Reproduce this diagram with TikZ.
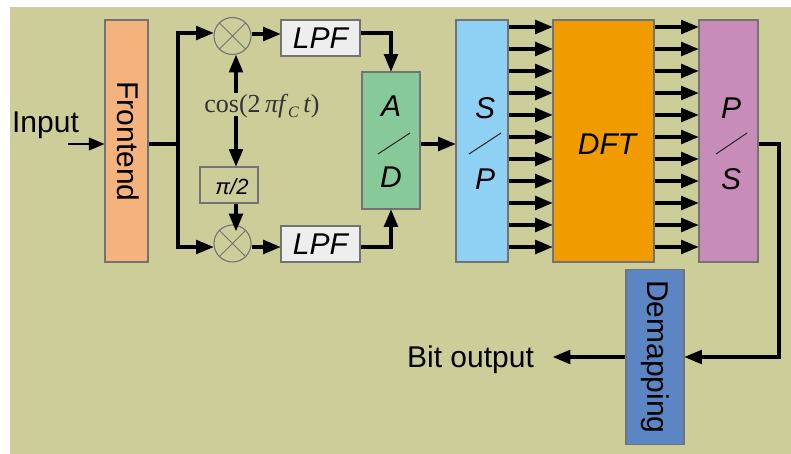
\documentclass[tikz,border=0pt]{standalone}
\usepackage{fontspec}
\setmainfont{Liberation Sans}
\newfontfamily\timesfont{Liberation Serif}
\usetikzlibrary{arrows}
\definecolor{bgcol}{HTML}{CDCD9A}
\definecolor{frontcol}{HTML}{F4B27C}
\definecolor{adcol}{HTML}{88C99A}
\definecolor{spcol}{HTML}{8FD0F5}
\definecolor{dftcol}{HTML}{F09C00}
\definecolor{pscol}{HTML}{C78CB8}
\definecolor{demapcol}{HTML}{5C85C4}
\definecolor{lpfcol}{HTML}{EEEEEE}

\begin{document}
\begin{tikzpicture}[x=1pt,y=-1pt,
    box/.style={draw=black!55,line width=1.1pt,inner sep=0pt},
    big/.style={font=\fontsize{30}{32}\selectfont},
    emph/.style={font=\fontsize{30}{32}\selectfont\itshape},
    mixer/.style={box,circle,minimum size=37pt,path picture={
        \draw[black!55,line width=1pt] (path picture bounding box.north west) -- (path picture bounding box.south east)
          (path picture bounding box.north east) -- (path picture bounding box.south west);}},
    sig/.style={line width=3.1pt,-{triangle 45}},
    wire/.style={line width=3.1pt},
    slash/.style={line width=1pt,black!85}]
  \useasboundingbox (0,0) rectangle (791,454);
  \fill[bgcol] (10,7) rectangle (791,454);

  \node[box,fill=frontcol,minimum width=43pt,minimum height=242pt] (frontend) at (126.5,141) {};
  \node[big,rotate=-90] (frontlabel) at (128.5,141.5) {Frontend};
  \node[mixer] (mixtop) at (232.5,36) {};
  \node[mixer] (mixbot) at (232.5,243.5) {};
  \node[box,emph,fill=lpfcol,minimum width=79pt,minimum height=36pt] (lpftop) at (320.5,38) {LPF};
  \node[box,emph,fill=lpfcol,minimum width=79pt,minimum height=36pt] (lpfbot) at (320.5,244) {LPF};
  \node[box,minimum width=58pt,minimum height=36pt] (shift) at (229,185) {};
  \node[font=\fontsize{22}{24}\selectfont\itshape] (shiftlabel) at (232,187) {π/2};
  \node[font=\fontsize{26}{28}\timesfont\selectfont,text=black!80] (carrier) at (262,106) {cos(2\,\textit{πf}\raisebox{-.2em}{\fontsize{16}{16}\selectfont\itshape C}\,\textit{t})};
  \node[box,fill=adcol,minimum width=58pt,minimum height=137pt] (adc) at (391,140.5) {};
  \node[box,fill=spcol,minimum width=52pt,minimum height=242pt] (sp) at (482,141) {};
  \node[box,fill=dftcol,minimum width=101pt,minimum height=242pt] (dft) at (603.5,141) {};
  \node[emph] (dftlabel) at (607,144) {DFT};
  \node[box,fill=pscol,minimum width=59pt,minimum height=242pt] (ps) at (728.5,141) {};
  \node[box,big,fill=demapcol,rotate=-90,minimum width=175pt,minimum height=58pt] (demap) at (655,357) {Demapping};

  \node[emph] (adA) at (391,106) {A};
  \node[emph] (adD) at (391,177) {D};
  \node[emph] (spS) at (485,108) {S};
  \node[emph] (spP) at (485,179) {P};
  \node[emph] (psP) at (731,108) {P};
  \node[emph] (psS) at (731,179) {S};
  \draw[slash] (378,154) -- (410,133);
  \draw[slash] (469,154) -- (501,133);
  \draw[slash] (716,154) -- (747,133);

  \node[big] (input) at (45.5,125) {Input};
  \node[big] (bits) at (470.5,360) {Bit output};
  \coordinate (instart) at (68,144);
  \coordinate (junc) at (178,144);
  \coordinate (upperin) at (236,93);
  \coordinate (lowerin) at (236,116);
  \coordinate (bitsend) at (553,357);

  \draw[line width=2.7pt,-{triangle 45}] (instart) -- (frontend.west |- instart);
  \draw[wire] (frontend.east |- junc) -- (junc);
  \fill (junc) circle (2.2pt);
  \draw[sig] (junc) |- (mixtop.west |- 0,33);
  \draw[sig] (junc) |- (mixbot.west |- 0,247);
  \draw[sig] (mixtop.east |- 0,34) -- (lpftop.west |- 0,34);
  \draw[sig] (mixbot.east |- 0,247) -- (lpfbot.west |- 0,247);
  \draw[sig] (lpftop.east |- 0,33) -| (adc.north);
  \draw[sig] (lpfbot.east |- 0,247) -| (adc.south);

  \draw[sig] (upperin) -- (upperin |- mixtop.south);
  \draw[sig] (lowerin) -- (lowerin |- shift.north);
  \draw[sig] (lowerin |- shift.south) -- (lowerin |- 0,231);

  \draw[sig] (adc.east |- 0,144) -- (sp.west |- 0,144);
  \foreach \y in {27,49,71,93,115,137,159,181,203,225,247} {
    \draw[sig] (sp.east |- 0,\y) -- (dft.west |- 0,\y);
    \draw[sig] (dft.east |- 0,\y) -- (ps.west |- 0,\y);
  }
  \draw[sig] (ps.east |- 0,144) -- (779,144) |- (demap.north);
  \draw[sig] (demap.south) -- (bitsend);
\end{tikzpicture}
\end{document}
